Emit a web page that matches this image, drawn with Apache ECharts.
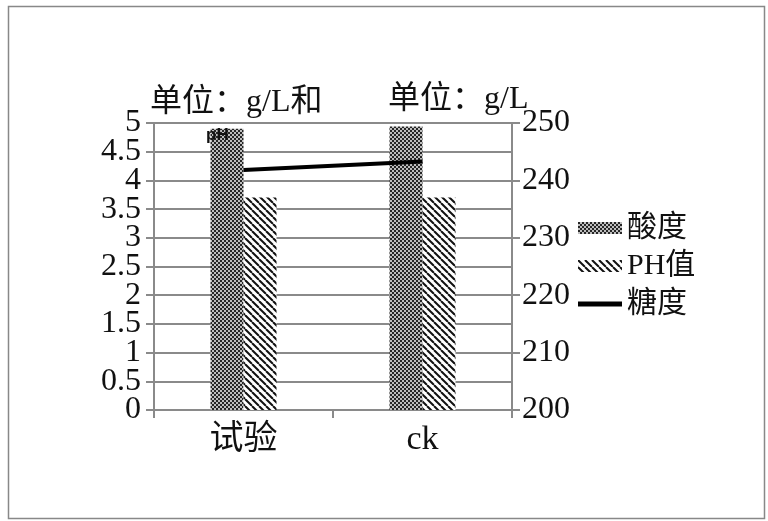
<!DOCTYPE html>
<html><head><meta charset="utf-8">
<script src="https://cdn.jsdelivr.net/npm/echarts@6/dist/echarts.min.js"></script>
<style>html,body{margin:0;padding:0;background:#fff}#c{width:768px;height:521px}</style>
</head><body><div id="c"></div>
<script>
const categories = ['试验', 'ck'];
const acidity = [4.9, 4.94];
const phValue = [3.7, 3.7];
const sugar = [241.8, 243.3];
const leftLabelsWhole = [0, 1, 2, 3, 4, 5];
const leftLabelsHalf = [0.5, 1.5, 2.5, 3.5, 4.5];
const leftTitle = '单位：g/L和';
const rightTitle = '单位：g/L';

const FONT = "'Liberation Serif', 'Noto Sans CJK SC', serif";

function checker() {
  const c = document.createElement('canvas'); c.width = c.height = 4;
  const g = c.getContext('2d');
  g.fillStyle = '#bdbdbd'; g.fillRect(0, 0, 4, 4);
  g.fillStyle = '#262626'; g.fillRect(0, 0, 2, 2); g.fillRect(2, 2, 2, 2);
  return c;
}
function hatch() {
  const s = 7;
  const c = document.createElement('canvas'); c.width = c.height = s;
  const g = c.getContext('2d');
  g.fillStyle = '#ffffff'; g.fillRect(0, 0, s, s);
  g.strokeStyle = '#111'; g.lineWidth = 2;
  for (const k of [-s, 0, s]) { g.beginPath(); g.moveTo(k, 0); g.lineTo(k + s, s); g.stroke(); }
  return c;
}
const checkPat = { image: checker(), repeat: 'repeat' };
const hatchPat = { image: hatch(), repeat: 'repeat' };

const chart = echarts.init(document.getElementById('c'), null, { renderer: 'canvas' });
const gray = '#8a8a8a';
const FS = 32;
const leftLabelStyle = { fontFamily: FONT, fontSize: FS, color: '#111', margin: 13, showMinLabel: true, showMaxLabel: true };
chart.setOption({
  animation: false,
  backgroundColor: '#fff',
  textStyle: { fontFamily: FONT },
  grid: { left: 154, right: 256, top: 123, bottom: 111 },
  legend: {
    orient: 'vertical', left: 573, top: 208, padding: 5,
    itemWidth: 44, itemHeight: 12, itemGap: 8,
    textStyle: { fontFamily: FONT, fontSize: 30, color: '#111' },
    data: [
      { name: '酸度', icon: 'rect' },
      { name: 'PH值', icon: 'rect' },
      { name: '糖度', icon: 'path://M0,0H44V5H0Z' }
    ]
  },
  xAxis: {
    type: 'category', data: categories,
    axisLine: { lineStyle: { color: gray, width: 2 } },
    axisTick: { show: true, length: 8, lineStyle: { color: gray, width: 2 } },
    axisLabel: { fontFamily: FONT, fontSize: 34, color: '#111', margin: 13 }
  },
  yAxis: [{
    type: 'value', min: 0, max: 5, interval: 0.5,
    axisLine: { show: true, lineStyle: { color: gray, width: 2 } },
    axisTick: { show: true, length: 8, lineStyle: { color: gray, width: 2 } },
    axisLabel: Object.assign({ customValues: leftLabelsWhole }, leftLabelStyle),
    splitLine: { lineStyle: { color: gray, width: 2 } }
  }, {
    type: 'value', min: 200, max: 250, interval: 10, position: 'right',
    axisLine: { show: true, lineStyle: { color: gray, width: 2 } },
    axisTick: { show: true, length: 8, lineStyle: { color: gray, width: 2 } },
    axisLabel: { fontFamily: FONT, fontSize: FS, color: '#111', margin: 10, showMinLabel: true, showMaxLabel: true },
    splitLine: { show: false }
  }, {
    type: 'value', min: 0, max: 5, interval: 0.5, position: 'left', offset: 0,
    axisLine: { show: false }, axisTick: { show: false }, splitLine: { show: false },
    axisLabel: Object.assign({ customValues: leftLabelsHalf }, leftLabelStyle)
  }],
  series: [{
    name: '酸度', type: 'bar', data: acidity, barWidth: 33, barGap: '0%',
    itemStyle: { color: checkPat }
  }, {
    name: 'PH值', type: 'bar', data: phValue, barWidth: 33,
    itemStyle: { color: hatchPat }
  }, {
    name: '糖度', type: 'line', yAxisIndex: 1, data: sugar,
    symbol: 'none', showSymbol: false,
    lineStyle: { color: '#000', width: 4 }, itemStyle: { color: '#000' }
  }],
  graphic: [{
    type: 'rect', left: 6, top: 4, shape: { width: 756, height: 512 },
    style: { fill: 'none', stroke: '#888', lineWidth: 1.5 }, silent: true
  }, {
    type: 'text', x: 150, y: 103, z: 100,
    style: { text: leftTitle, fill: '#111', fontFamily: FONT, fontSize: FS, verticalAlign: 'middle', align: 'left' }
  }, {
    type: 'text', x: 388, y: 100, z: 100,
    style: { text: rightTitle, fill: '#111', fontFamily: FONT, fontSize: FS, verticalAlign: 'middle', align: 'left' }
  }, {
    type: 'text', x: 206, y: 127, z: 100,
    style: { text: 'pH', fill: '#111', fontFamily: "'Liberation Sans', Arial, sans-serif", fontWeight: 'bold', fontSize: 17, verticalAlign: 'top', align: 'left' }
  }]
});
</script></body></html>
